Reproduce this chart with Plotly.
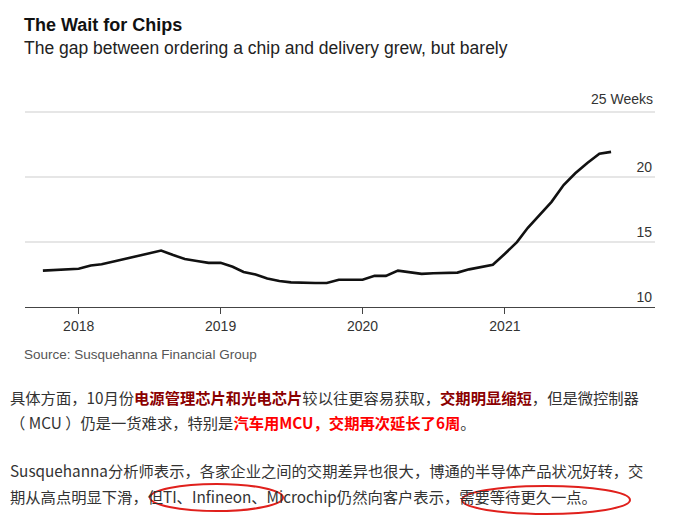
import plotly.graph_objects as go

months = ["2017-10", "2017-11", "2017-12",
          "2018-01", "2018-02", "2018-03", "2018-04", "2018-05", "2018-06",
          "2018-07", "2018-08", "2018-09", "2018-10", "2018-11", "2018-12",
          "2019-01", "2019-02", "2019-03", "2019-04", "2019-05", "2019-06",
          "2019-07", "2019-08", "2019-09", "2019-10", "2019-11", "2019-12",
          "2020-01", "2020-02", "2020-03", "2020-04", "2020-05", "2020-06",
          "2020-07", "2020-08", "2020-09", "2020-10", "2020-11", "2020-12",
          "2021-01", "2021-02", "2021-03", "2021-04", "2021-05", "2021-06",
          "2021-07", "2021-08", "2021-09", "2021-10"]
weeks = [12.8, 12.85, 12.95,
         12.95, 13.2, 13.3, 13.5, 13.7, 13.9,
         14.1, 14.35, 14.0, 13.7, 13.55, 13.4,
         13.4, 13.1, 12.7, 12.5, 12.2, 12.0,
         11.9, 11.85, 11.85, 11.85, 12.1, 12.1,
         12.1, 12.4, 12.4, 12.8, 12.7, 12.55,
         12.6, 12.65, 12.65, 12.9, 13.1, 13.25,
         14.1, 15.0, 16.1, 17.1, 18.1, 19.4,
         20.3, 21.1, 21.8, 21.95]
x = [m + "-01" for m in months]

ytick_vals = [10, 15, 20, 25]
ytick_text = ["10", "15", "20", ""]
top_label = "25 Weeks"
xtick_vals = ["2018-01-01", "2019-01-01", "2020-01-01", "2021-01-01"]
xtick_text = ["2018", "2019", "2020", "2021"]

# page seems shifted by 8px, so work in reference pixels minus 8
OFF = 8
L, R, T, B = 25 - OFF, 39 + OFF, 111 - OFF, 212 + OFF
W, H = 694, 519
PW, PH = W - L - R, H - T - B

def px(xp, yp):
    return (xp - OFF - L) / PW, 1 - (yp - OFF - T) / PH

fig = go.Figure(go.Scatter(x=x, y=weeks, mode="lines",
                           line=dict(color="#111111", width=2.6)))

cjk = "Noto Sans CJK SC"
fig.update_layout(
    width=W, height=H,
    margin=dict(l=L, r=R, t=T, b=B),
    paper_bgcolor="white", plot_bgcolor="white",
    showlegend=False,
    font=dict(family="Liberation Sans, Arial", color="#222"),
    xaxis=dict(range=["2017-08-16", "2022-01-22"], tickvals=xtick_vals, ticktext=xtick_text,
               showgrid=False, showline=True, linecolor="#444", linewidth=1.2,
               ticks="outside", ticklen=6, tickcolor="#444",
               tickfont=dict(size=14, color="#333"), zeroline=False),
    yaxis=dict(range=[10, 25.1], tickvals=ytick_vals, ticktext=ytick_text,
               side="right", ticklabelposition="inside top",
               showgrid=True, gridcolor="#e6e6e6", gridwidth=1.5,
               tickfont=dict(size=14, color="#333"), zeroline=False, showline=False),
)

anns = [
    dict(x=22, y=13, text="<b>The Wait for Chips</b>", font=dict(size=18, color="#111")),
    dict(x=22, y=36, text="The gap between ordering a chip and delivery grew, but barely",
         font=dict(size=17.5, color="#222")),
    dict(x=22, y=345, text="Source: Susquehanna Financial Group", font=dict(size=13.5, color="#555")),
    dict(x=8, y=384, text="具体方面，10月份<b><span style='color:#8b0000'>电源管理芯片和光电芯片</span></b>较以往更容易获取，"
                          "<b><span style='color:#8b0000'>交期明显缩短</span></b>，但是微控制器",
         font=dict(size=15.3, color="#333", family=cjk)),
    dict(x=8, y=409, text="（ MCU ）仍是一货难求，特别是<b><span style='color:#ff0000'>汽车用MCU，交期再次延长了6周</span></b>。",
         font=dict(size=15.3, color="#333", family=cjk)),
    dict(x=8, y=457, text="Susquehanna分析师表示，各家企业之间的交期差异也很大，博通的半导体产品状况好转，交",
         font=dict(size=15.3, color="#333", family=cjk)),
    dict(x=8, y=483, text="期从高点明显下滑，但TI、Infineon、Microchip仍然向客户表示，需要等待更久一点。",
         font=dict(size=15.3, color="#333", family=cjk)),
]
for a in anns:
    a.update(xref="paper", yref="paper", showarrow=False, xanchor="left", yanchor="top")
    a["x"], a["y"] = px(a["x"], a["y"])
anns.append(dict(xref="paper", yref="y", x=1, y=25, text=top_label, showarrow=False,
                 xanchor="right", yanchor="bottom", yshift=3,
                 font=dict(size=14, color="#333")))
fig.update_layout(annotations=anns)

for x0, y0, x1, y1 in [(150, 484, 283, 511), (462, 486, 630, 514)]:
    a0, b0 = px(x0, y0)
    a1, b1 = px(x1, y1)
    fig.add_shape(type="circle", xref="paper", yref="paper", x0=a0, y0=b1, x1=a1, y1=b0,
                  line=dict(color="#e0201c", width=2))

fig.write_html("out.html")
